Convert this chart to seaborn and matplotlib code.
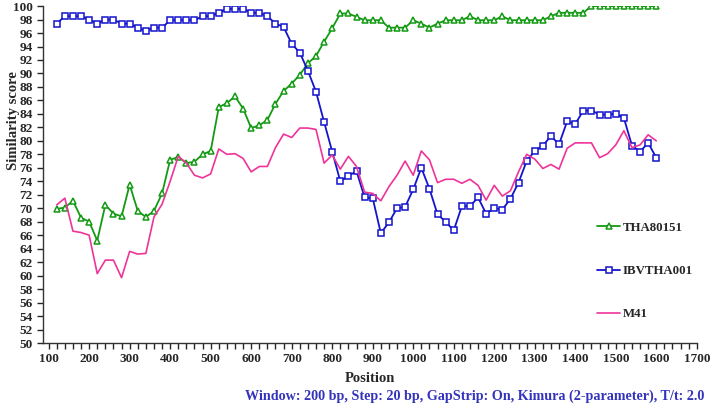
import matplotlib
matplotlib.use("Agg")
import matplotlib.pyplot as plt
import seaborn as sns
import numpy as np
from matplotlib.ticker import MultipleLocator

# Data (window positions every 20 bp)
positions = list(range(120, 1601, 20))

tha80151 = [69.9, 70.1, 71.1, 68.6, 68.0, 65.2, 70.5, 69.2, 68.8, 73.5,
            69.6, 68.7, 69.6, 72.2, 77.2, 77.6, 76.7, 76.9, 78.0, 78.5,
            85.0, 85.6, 86.6, 84.8, 81.9, 82.3, 83.1, 85.5, 87.4, 88.5,
            89.8, 91.5, 92.6, 94.7, 96.7, 98.9, 98.9, 98.4, 97.9, 97.9,
            97.9, 96.8, 96.8, 96.8, 97.9, 97.4, 96.8, 97.4, 97.9, 97.9,
            97.9, 98.5, 97.9, 97.9, 97.9, 98.5, 97.9, 97.9, 97.9, 97.9,
            97.9, 98.5, 99.0, 99.0, 99.0, 99.0, 100, 100, 100, 100,
            100, 100, 100, 100, 100]

ibvtha001 = [97.4, 98.5, 98.5, 98.5, 98.0, 97.4, 98.0, 98.0, 97.4, 97.4,
             96.8, 96.3, 96.8, 96.8, 97.9, 97.9, 97.9, 97.9, 98.5, 98.5,
             99.0, 99.6, 99.6, 99.6, 99.0, 99.0, 98.5, 97.4, 96.9, 94.4,
             93.1, 90.4, 87.3, 82.8, 78.4, 74.0, 74.8, 75.5, 71.6, 71.5,
             66.3, 67.9, 70.0, 70.2, 72.8, 76.0, 72.9, 69.1, 68.0, 66.7,
             70.3, 70.3, 71.6, 69.2, 70.0, 69.8, 71.4, 73.8, 77.0, 78.5,
             79.3, 80.7, 79.5, 82.9, 82.5, 84.5, 84.5, 83.9, 83.9, 84.0,
             83.4, 79.3, 78.4, 79.7, 77.5]

m41 = [70.5, 71.5, 66.6, 66.4, 66.0, 60.3, 62.3, 62.3, 59.7, 63.6,
       63.2, 63.3, 68.7, 70.6, 74.0, 77.7, 76.7, 74.9, 74.5, 75.1,
       78.8, 78.0, 78.1, 77.4, 75.4, 76.2, 76.2, 79.0, 81.0, 80.5,
       81.9, 81.9, 81.7, 76.7, 77.9, 75.8, 77.7, 76.2, 72.4, 72.2,
       71.1, 73.2, 74.9, 77.0, 74.9, 78.5, 77.2, 73.8, 74.3, 74.3,
       73.7, 74.3, 73.4, 71.2, 73.4, 71.8, 72.6, 75.4, 78.0, 77.3,
       75.9, 76.5, 75.8, 78.9, 79.7, 79.7, 79.7, 77.5, 78.1, 79.4,
       81.5, 79.0, 79.4, 80.9, 80.0]

footer = "Window: 200 bp, Step: 20 bp, GapStrip: On, Kimura (2-parameter), T/t: 2.0"

sns.set_style("ticks")
plt.rcParams['font.family'] = ['Liberation Serif', 'DejaVu Serif']
plt.rcParams['font.weight'] = 'bold'

fig = plt.figure(figsize=(7.11, 4.05), dpi=100)
ax = fig.add_axes([0.061, 0.153, 0.919, 0.832])

sns.lineplot(x=positions, y=tha80151, ax=ax, color='#139A13', lw=1.3,
             marker='^', markersize=5, markerfacecolor='white',
             markeredgecolor='#139A13', markeredgewidth=1.1, label='THA80151')
sns.lineplot(x=positions, y=ibvtha001, ax=ax, color='#1414CC', lw=1.3,
             marker='s', markersize=4.5, markerfacecolor='white',
             markeredgecolor='#1414CC', markeredgewidth=1.1, label='IBVTHA001')
sns.lineplot(x=positions, y=m41, ax=ax, color='#EE3399', lw=1.2, label='M41')

ax.set_xlim(87, 1700)
ax.set_ylim(50, 100)
ax.xaxis.set_major_locator(MultipleLocator(100))
ax.xaxis.set_minor_locator(MultipleLocator(20))
ax.yaxis.set_major_locator(MultipleLocator(2))
ax.tick_params(axis='both', which='major', labelsize=9.5, length=4, width=1, direction='out')
ax.tick_params(axis='x', which='minor', length=4, width=1, direction='out')
for lab in ax.get_xticklabels() + ax.get_yticklabels():
    lab.set_fontweight('bold')
sns.despine(ax=ax)
for sp in ['left', 'bottom']:
    ax.spines[sp].set_color('#333333')
    ax.spines[sp].set_linewidth(1)

ax.set_xlabel('Position', fontsize=10.5, fontweight='bold')
ax.set_ylabel('Similarity score', fontsize=10.5, fontweight='bold')
ax.xaxis.set_label_coords(0.5, -0.085)
ax.yaxis.set_label_coords(-0.036, 0.66)

ax.get_legend().remove()
handles, labels = ax.get_legend_handles_labels()
fig.legend(handles, labels, loc='upper left', bbox_to_anchor=(0.840, 0.452),
           frameon=False, borderpad=0, borderaxespad=0, handlelength=1.8,
           handletextpad=0.2, labelspacing=2.4,
           prop={'family': 'Liberation Serif', 'weight': 'bold', 'size': 9.3})

fig.text(0.99, 0.014, footer, ha='right', va='baseline', color='#3333BB',
         fontsize=10.2, fontweight='bold')

fig.savefig('out.png', dpi=100)
